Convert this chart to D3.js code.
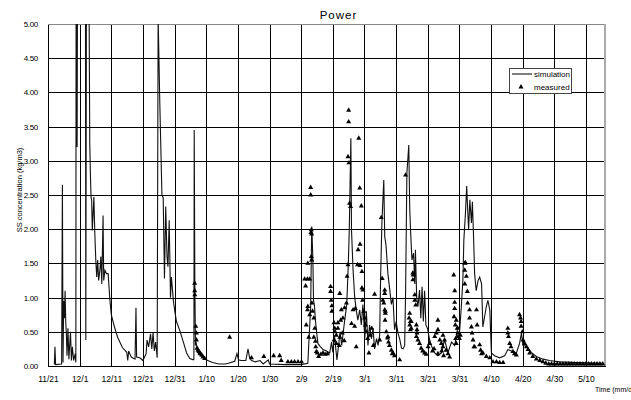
<!DOCTYPE html>
<html>
<head>
<meta charset="utf-8">
<script src="https://cdn.jsdelivr.net/npm/d3@7/dist/d3.min.js"></script>
<style>
  body { margin: 0; background: #fff; }
  text { font-family: "Liberation Sans", Arial, sans-serif; fill: #000; }
</style>
</head>
<body>
<div id="chart"></div>
<script>
// x axis: days since 11/21
var tickDays = [0, 10, 20, 30, 40, 50, 60, 70, 80, 90, 100, 110, 120, 130, 140, 150, 160, 170];
var tickLabels = ["11/21", "12/1", "12/11", "12/21", "12/31", "1/10", "1/20", "1/30", "2/9", "2/19",
                  "3/1", "3/11", "3/21", "3/31", "4/10", "4/20", "4/30", "5/10"];
var yTicks = [0, 0.5, 1, 1.5, 2, 2.5, 3, 3.5, 4, 4.5, 5];

// simulation [day, SS kg/m3]
var simulation = [
  [2.0,0.02],[2.2,0.28],[2.4,0.02],[4.3,0.03],[4.55,2.65],[4.75,0.05],[4.95,0.95],[5.2,0.7],[5.4,1.1],[5.6,0.65],
  [5.8,0.47],[6.0,0.15],[6.3,0.55],[6.6,0.1],[7.1,0.5],[7.4,0.08],[7.7,0.28],[8.1,0.08],[8.6,0.18],[8.8,0.05],
  [8.9,7],[9.1,7],[9.2,3.2],[9.4,7],[11.8,7],[11.95,0.38],[12.2,7],[12.9,6],
  [13.2,3.25],[13.4,2.8],[13.6,2.47],[13.8,2.42],[14.0,1.98],[14.5,2.47],[14.8,1.93],[15.1,1.55],[15.4,1.3],[15.7,1.55],
  [16.0,1.25],[16.4,1.4],[16.7,1.6],[17.0,1.2],[17.4,2.2],[17.6,1.25],[18.0,1.4],[18.5,1.35],[19.0,1.35],[19.5,1.0],
  [20.0,0.75],[21.0,0.57],[22.0,0.42],[23.5,0.27],[24.9,0.2],[25.2,0.08],[25.5,0.22],[26.3,0.13],[27.5,0.1],[27.8,0.85],
  [28.0,0.13],[29.0,0.12],[30.0,0.08],[31.0,0.18],[31.3,0.38],[31.8,0.28],[32.4,0.47],[32.8,0.25],[33.2,0.49],[33.6,0.22],
  [34.0,0.35],[34.5,0.12],[34.8,5.1],[35.35,3.8],[36.0,2.5],[36.4,2.46],[36.8,1.28],[37.2,2.33],[37.6,1.6],[37.9,1.45],
  [38.3,2.13],[38.7,1.0],[39.0,1.3],[39.6,0.96],[40.1,0.79],[40.6,0.65],[41.7,0.51],[42.7,0.36],[43.8,0.19],[44.8,0.11],
  [45.9,0.09],[46.1,0.1],[46.2,3.45],[46.4,1.21],[46.6,0.3],[46.8,0.35],[47.3,0.2],[47.8,0.17],[48.5,0.14],[50,0.09],
  [51,0.07],[52,0.05],[54,0.03],[56,0.03],[57,0.04],[59,0.07],[59.7,0.18],[60.2,0.09],[61,0.08],[62.5,0.08],
  [63.2,0.25],[63.7,0.12],[64.3,0.08],[65.5,0.06],[67,0.08],[68,0.03],[69.6,0.09],[70,0.03],[75,0.02],[80,0.02],
  [82.1,0.04],[82.6,0.5],[83.0,0.87],[83.2,1.6],[83.35,2.04],[83.7,1.55],[83.9,0.96],[84.2,0.88],[84.5,0.67],[84.9,0.48],
  [85.3,0.33],[85.9,0.29],[86.9,0.24],[88,0.22],[89,0.19],[89.6,0.35],[90.0,0.2],[90.5,0.45],[91.3,0.09],[92.3,0.5],
  [92.8,0.3],[93.7,0.65],[94.4,0.9],[94.9,1.5],[95.2,2.0],[95.7,3.33],[95.9,1.99],[96.4,1.4],[96.9,1.01],[97.4,0.82],
  [97.9,0.67],[98.5,0.82],[99.0,0.6],[99.5,0.9],[100.1,0.4],[100.6,0.8],[101.1,0.3],[101.6,0.6],[102.2,0.4],[102.7,0.55],
  [103.2,0.25],[103.8,0.4],[104.3,0.3],[104.8,0.45],[105.1,1.3],[105.5,2.09],[106.1,2.72],[106.4,1.89],[106.8,1.77],[107.4,1.35],
  [108.0,1.11],[108.5,0.9],[109.0,1.0],[109.5,0.53],[110.0,0.65],[110.6,0.48],[111.1,0.4],[111.7,0.26],[112.2,0.25],[112.7,0.3],
  [113.0,1.1],[113.4,2.82],[114.0,3.23],[114.3,2.3],[114.6,1.94],[115.0,1.55],[115.5,1.65],[115.9,1.2],[116.1,1.7],[116.5,1.0],
  [116.9,0.87],[117.4,1.11],[117.8,0.7],[118.2,1.16],[118.6,0.65],[119.0,1.1],[119.4,0.6],[119.9,0.55],[120.6,0.38],[121.1,0.3],
  [122.2,0.19],[123.2,0.15],[124.3,0.19],[125.3,0.38],[126.4,0.2],[127.5,0.35],[128.5,0.3],[129.0,0.43],[129.5,0.58],[130.1,0.53],
  [130.6,0.87],[131.1,1.26],[131.4,1.84],[131.9,2.23],[132.3,2.63],[132.5,2.4],[132.9,2.0],[133.3,2.43],[133.8,2.09],[134.1,2.4],
  [134.5,1.84],[134.8,1.35],[135.3,1.1],[135.9,1.25],[136.4,1.3],[137.0,1.2],[137.4,0.57],[138.5,0.87],[139.0,0.96],[139.6,0.82],
  [140.1,0.19],[141.1,0.15],[142.7,0.12],[144.3,0.15],[145.3,0.24],[146.5,0.22],[148.0,0.19],[149.0,0.33],[149.6,0.48],[150.1,0.3],
  [151.2,0.29],[152.7,0.2],[154.3,0.14],[156.4,0.1],[158.5,0.08],[161.7,0.06],[167.0,0.05],[175.4,0.04]
];

// measured [day, SS kg/m3]
var measured = [
  [46.35,1.21],[46.35,1.10],[46.4,1.04],[46.7,0.58],[46.9,0.48],[46.9,0.38],[47.1,0.26],[47.4,0.23],[47.7,0.21],[48.0,0.19],
  [48.2,0.18],[48.6,0.16],[49.0,0.13],[49.5,0.11],
  [57.4,0.42],[64.3,0.12],[68.2,0.14],[71.3,0.15],[73.2,0.15],[73.7,0.08],[75.8,0.06],[76.9,0.06],[77.9,0.06],[79.0,0.06],[80.1,0.06],
  [83.0,2.61],[83.0,2.5],[83.2,1.99],[83.1,1.95],[83.3,1.93],[83.2,1.6],[82.1,1.5],[83.3,1.55],[81.1,1.27],[82.0,1.27],
  [82.7,1.27],[81.4,1.17],[82.1,0.87],[82.0,0.82],[83.4,0.92],[84.0,0.7],[81.6,0.6],[82.4,0.42],[84.0,0.42],[84.5,0.36],
  [84.6,0.28],[84.8,0.21],[85.1,0.19],[85.5,0.14],[86.2,0.17],[86.9,0.19],[87.6,0.17],[88.3,0.18],[82.7,0.75],[83.6,0.8],[84.3,0.55],
  [89.3,1.16],[89.3,1.09],[89.5,0.96],[89.7,0.88],[89.7,0.8],[92.2,1.06],[90.4,0.63],[90.6,0.55],[90.7,0.5],[91.1,0.45],
  [90.4,0.38],[91.6,0.63],[91.6,0.55],[92.7,0.82],[92.5,0.67],[93.2,0.7],[93.7,0.85],[94.3,0.92],[92.2,0.42],[91.1,0.33],
  [92.0,0.3],[93.0,0.48],[93.6,0.37],
  [95.0,3.74],[95.0,3.57],[94.8,3.06],[95.1,2.97],[98.2,3.33],[98.5,2.6],[99.0,2.34],[95.3,2.38],[95.6,2.33],[98.6,1.78],
  [98.0,1.7],[97.8,1.48],[98.6,1.47],[99.2,1.38],[94.8,1.48],[94.5,1.31],[99.5,1.11],[99.2,1.14],[99.4,0.96],[97.1,0.84],
  [96.4,0.82],[95.9,0.62],[96.9,0.58],[97.4,0.28],[99.8,0.8],[100.3,0.6],[100.6,0.5],[101.0,0.4],[101.4,0.19],[101.8,0.45],
  [102.3,0.55],[103.2,1.05],[102.8,0.3],[104.8,0.38],[100.1,0.7],
  [105.3,2.17],[105.6,1.28],[106.4,1.11],[106.4,1.06],[105.8,0.96],[106.1,0.92],[106.4,0.82],[106.6,0.8],[106.5,0.67],[106.9,0.5],
  [107.3,0.41],[107.4,0.43],[107.6,0.35],[107.9,0.3],[108.5,0.23],[108.8,0.18],[109.0,0.19],[109.5,0.15],[111.1,0.09],[106.6,0.77],
  [113.0,2.79],[115.3,1.36],[115.4,1.33],[115.9,1.04],[116.2,0.89],[115.3,1.26],[115.9,0.96],[114.3,0.77],[114.8,0.65],[114.3,0.6],
  [114.5,0.53],[116.4,0.6],[116.6,0.53],[116.4,0.43],[116.9,0.38],[117.4,0.33],[117.9,0.26],[118.4,0.22],[119.0,0.19],[119.5,0.17],
  [114.1,0.7],[114.5,0.65],[114.8,0.55],[116.6,0.48],
  [120.1,0.28],[120.6,0.33],[122.2,0.43],[122.7,0.48],[123.2,0.67],[123.2,0.53],[123.8,0.38],[124.3,0.33],[124.8,0.28],[123.2,0.18],
  [125.3,0.38],[125.8,0.23],[126.4,0.18],[126.9,0.13],[124.4,0.22],[125.0,0.15],[122.0,0.25],[121.5,0.22],[124.8,0.45],
  [128.2,1.33],[128.5,1.1],[128.5,0.93],[128.5,0.84],[129.0,0.67],[129.3,0.55],[129.5,0.48],[129.6,0.43],[130.0,0.4],[130.3,0.45],
  [128.3,0.72],[128.7,0.6],[128.8,0.4],[129.0,0.33],
  [131.7,1.5],[131.9,1.51],[131.7,1.4],[132.2,1.31],[131.7,1.2],[132.5,1.09],[132.6,0.92],[133.2,0.82],[133.2,0.7],[133.8,0.57],
  [134.0,0.48],[134.3,0.38],[134.6,0.28],[134.8,0.28],[135.4,0.82],[135.6,0.6],[136.4,0.31],[136.7,0.23],[137.0,0.18],[137.4,0.19],
  [138.5,0.14],[139.6,0.12],[140.6,0.06],[141.7,0.06],[142.7,0.05],[143.8,0.05],
  [145.3,0.55],[145.3,0.48],[145.5,0.43],[145.9,0.33],[146.3,0.28],[146.9,0.21],[147.4,0.18],[148.0,0.16],[149.0,0.75],[149.3,0.7],
  [149.5,0.65],[149.5,0.58],[149.9,0.5],[150.1,0.38],[150.6,0.33],[151.2,0.28],[151.7,0.24],[152.2,0.19],[153.2,0.14],[154.3,0.1],
  [155.4,0.08],[156.4,0.06],
  [157.3,0.04],[158.2,0.03],[159.1,0.03],[160.0,0.03],[160.9,0.03],[161.8,0.03],[162.7,0.03],[163.6,0.03],[164.5,0.03],[165.4,0.03],
  [166.3,0.03],[167.2,0.03],[168.1,0.03],[169.0,0.03],[169.9,0.03],[170.8,0.03],[171.7,0.03],[172.6,0.03],[173.5,0.03],[174.4,0.03],[175.3,0.03]
];

var margin = {top: 24, right: 26, bottom: 34, left: 48},
    width = 631 - margin.left - margin.right,
    height = 400 - margin.top - margin.bottom;

var svg = d3.select("#chart")
  .append("svg")
    .attr("width", 631)
    .attr("height", 400)
  .append("g")
    .attr("transform", "translate(" + margin.left + "," + margin.top + ")");

var x = d3.scaleLinear().domain([0, 176]).range([0, width]);
var y = d3.scaleLinear().domain([0, 5]).range([height, 0]);

// grid
svg.append("g")
  .attr("class", "grid")
  .call(d3.axisLeft(y).tickValues(yTicks).tickSize(-width).tickFormat(""))
  .call(g => g.select(".domain").remove());
svg.append("g")
  .attr("class", "grid")
  .attr("transform", "translate(0," + height + ")")
  .call(d3.axisBottom(x).tickValues(tickDays).tickSize(-height).tickFormat(""))
  .call(g => g.select(".domain").remove());
svg.selectAll(".grid line").attr("stroke", "#000").attr("stroke-width", 1).attr("shape-rendering", "crispEdges");

// frame: top and right lighter
svg.append("line").attr("x1", 0).attr("x2", width).attr("y1", 0).attr("y2", 0)
  .attr("stroke", "#888").attr("shape-rendering", "crispEdges");
svg.append("line").attr("x1", width).attr("x2", width).attr("y1", 0).attr("y2", height)
  .attr("stroke", "#aaa").attr("stroke-width", 1.5).attr("shape-rendering", "crispEdges");

// axes
svg.append("g")
  .call(d3.axisLeft(y).tickValues(yTicks).tickSize(0).tickPadding(10).tickFormat(d3.format(".2f")))
  .call(g => g.select(".domain").attr("stroke", "#000").attr("shape-rendering", "crispEdges"))
  .selectAll("text").style("font-size", "8px").style("letter-spacing", "-0.3px");

svg.append("g")
  .attr("transform", "translate(0," + height + ")")
  .call(d3.axisBottom(x).tickValues(tickDays).tickSize(0).tickPadding(10)
        .tickFormat(function(d, i) { return tickLabels[i]; }))
  .call(g => g.select(".domain").attr("stroke", "#000").attr("shape-rendering", "crispEdges"))
  .selectAll("text").style("font-size", "8.5px");

// clip for values above 5
svg.append("clipPath").attr("id", "clip")
  .append("rect").attr("x", 0).attr("y", 0).attr("width", width).attr("height", height);

svg.append("path")
  .datum(simulation)
  .attr("clip-path", "url(#clip)")
  .attr("fill", "none")
  .attr("stroke", "#111")
  .attr("stroke-width", 1.1)
  .attr("d", d3.line()
    .x(function(d) { return x(d[0]); })
    .y(function(d) { return y(d[1]); }));

var tri = d3.symbol().type(d3.symbolTriangle).size(11);
svg.selectAll(".obs")
  .data(measured)
  .enter()
  .append("path")
    .attr("class", "obs")
    .attr("d", tri)
    .attr("transform", function(d) { return "translate(" + x(d[0]) + "," + y(d[1]) + ")"; })
    .attr("fill", "#000");

// title and labels
svg.append("text")
  .attr("x", width / 2 + 12)
  .attr("y", -5)
  .style("text-anchor", "middle")
  .style("font-size", "11.5px")
  .style("letter-spacing", "1px")
  .text("Power");

svg.append("text")
  .attr("transform", "rotate(-90)")
  .attr("x", -166)
  .attr("y", -26)
  .style("text-anchor", "middle")
  .style("font-size", "7.5px")
  .text("SS concentration (kg/m3)");

svg.append("text")
  .attr("x", 547)
  .attr("y", 368)
  .style("font-size", "7px")
  .text("Time (mm/d");

// legend
var lg = svg.append("g").attr("transform", "translate(461,44)");
lg.append("rect").attr("width", 62).attr("height", 25)
  .attr("fill", "#fff").attr("stroke", "#444").attr("shape-rendering", "crispEdges");
lg.append("line").attr("x1", 3).attr("x2", 23).attr("y1", 6).attr("y2", 6).attr("stroke", "#000");
lg.append("text").attr("x", 25).attr("y", 9).style("font-size", "8px").text("simulation");
lg.append("path").attr("d", tri).attr("transform", "translate(12,19)").attr("fill", "#000");
lg.append("text").attr("x", 25).attr("y", 22).style("font-size", "8px").text("measured");
</script>
</body>
</html>
